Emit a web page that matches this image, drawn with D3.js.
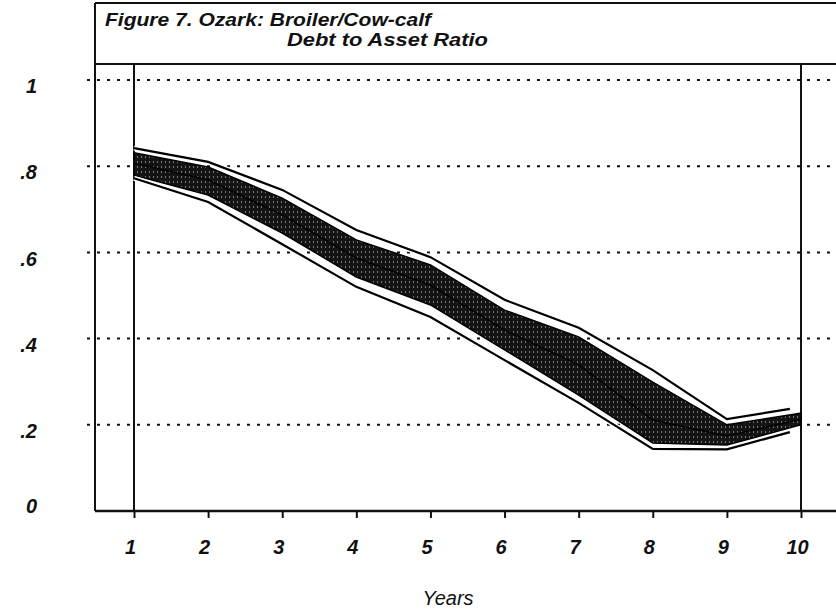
<!DOCTYPE html>
<html>
<head>
<meta charset="utf-8">
<script src="https://cdn.jsdelivr.net/npm/d3@7.9.0/dist/d3.min.js"></script>
<style>
  html, body { margin: 0; padding: 0; background: #fff; }
  svg { display: block; }
  text { font-family: "Liberation Sans", Arial, sans-serif; font-style: italic; font-weight: bold; fill: #111; }
</style>
</head>
<body>
<div id="chart"></div>
<script>
const titleLines = ["Figure 7. Ozark: Broiler/Cow-calf", "Debt to Asset Ratio"];
const xLabel = "Years";

const years = [1, 2, 3, 4, 5, 6, 7, 8, 9, 10];
const yTicks = [0, 0.2, 0.4, 0.6, 0.8, 1];
const yTickLabels = ["0", ".2", ".4", ".6", ".8", "1"];

// shaded band (inner range)
const bandHigh = [0.831, 0.798, 0.726, 0.629, 0.571, 0.466, 0.404, 0.299, 0.200, 0.227];
const bandLow  = [0.779, 0.733, 0.645, 0.543, 0.478, 0.374, 0.269, 0.158, 0.153, 0.200];
const median   = [0.807, 0.768, 0.687, 0.587, 0.524, 0.420, 0.339, 0.211, 0.174, 0.213];

// outer lines stop a little short of year 10
const outerYears = [1, 2, 3, 4, 5, 6, 7, 8, 9, 9.85];
const upper = [0.842, 0.810, 0.745, 0.652, 0.589, 0.490, 0.425, 0.327, 0.213, 0.237];
const lower = [0.772, 0.717, 0.619, 0.520, 0.450, 0.350, 0.251, 0.144, 0.143, 0.183];

const width = 836;
const height = 615;
const frame = { left: 95, top: 3, titleBottom: 64, bottom: 511 };

const svg = d3.select("#chart")
  .append("svg")
  .attr("width", width)
  .attr("height", height);

const x = d3.scaleLinear().domain([1, 10]).range([134, 801]);
const y = d3.scaleLinear().domain([0, 1]).range([511, 80]);

// texture for the shaded band
const defs = svg.append("defs");
const pat = defs.append("pattern")
  .attr("id", "stipple")
  .attr("patternUnits", "userSpaceOnUse")
  .attr("width", 4)
  .attr("height", 5);
pat.append("rect").attr("width", 4).attr("height", 5).attr("fill", "#141414");
pat.append("rect").attr("x", 1).attr("y", 1).attr("width", 1).attr("height", 2).attr("fill", "#777");

// frame
const frameG = svg.append("g").attr("stroke", "#111").attr("stroke-width", 2).attr("fill", "none");
frameG.append("line").attr("x1", frame.left).attr("x2", width).attr("y1", frame.top).attr("y2", frame.top);
frameG.append("line").attr("x1", frame.left).attr("x2", width).attr("y1", frame.titleBottom).attr("y2", frame.titleBottom);
frameG.append("line").attr("x1", frame.left).attr("x2", frame.left).attr("y1", frame.top).attr("y2", frame.bottom);

// title
svg.append("text").attr("x", 105).attr("y", 26).style("font-size", "19px")
  .attr("textLength", 326).attr("lengthAdjust", "spacingAndGlyphs").text(titleLines[0]);
svg.append("text").attr("x", 287).attr("y", 46).style("font-size", "19px")
  .attr("textLength", 201).attr("lengthAdjust", "spacingAndGlyphs").text(titleLines[1]);

// dotted gridlines
svg.append("g")
  .selectAll("line")
  .data(yTicks.filter((d) => d > 0))
  .join("line")
  .attr("x1", 87)
  .attr("x2", width)
  .attr("y1", (d) => y(d))
  .attr("y2", (d) => y(d))
  .attr("stroke", "#111")
  .attr("stroke-width", 2)
  .attr("stroke-dasharray", "3,7");

// y labels
svg.append("g")
  .selectAll("text")
  .data(yTicks)
  .join("text")
  .attr("x", 37)
  .attr("y", (d) => y(d) + 8 - (d === 0 ? 11 : 0))
  .attr("text-anchor", "end")
  .attr("dominant-baseline", "middle")
  .style("font-size", "20px")
  .text((d, i) => yTickLabels[i]);

// vertical lines at year 1 and year 10
svg.append("g")
  .selectAll("line")
  .data([1, 10])
  .join("line")
  .attr("x1", (d) => x(d))
  .attr("x2", (d) => x(d))
  .attr("y1", frame.titleBottom)
  .attr("y2", frame.bottom)
  .attr("stroke", "#111")
  .attr("stroke-width", 2);

// x axis
const xAxis = svg.append("g")
  .attr("transform", `translate(0, ${frame.bottom})`)
  .call(d3.axisBottom(x).tickValues(years).tickSize(7).tickFormat(d3.format("d")));
xAxis.select(".domain").remove();
xAxis.selectAll(".tick line").attr("stroke", "#111").attr("stroke-width", 2);
xAxis.selectAll(".tick text")
  .attr("y", 29)
  .attr("dx", -4)
  .attr("font-family", null)
  .attr("font-size", null)
  .style("font-size", "20px")
  .attr("fill", "#111");
svg.append("line")
  .attr("x1", frame.left)
  .attr("x2", width)
  .attr("y1", frame.bottom)
  .attr("y2", frame.bottom)
  .attr("stroke", "#111")
  .attr("stroke-width", 2.5);

svg.append("text")
  .attr("x", 448)
  .attr("y", 605)
  .attr("text-anchor", "middle")
  .style("font-size", "20px")
  .style("font-weight", "normal")
  .text(xLabel);

// band
const bandData = years.map((yr, i) => ({ yr, hi: bandHigh[i], lo: bandLow[i], mid: median[i] }));
const area = d3.area()
  .x((d) => x(d.yr))
  .y0((d) => y(d.lo))
  .y1((d) => y(d.hi));

svg.append("path")
  .datum(bandData)
  .attr("d", area)
  .attr("fill", "url(#stipple)")
  .attr("stroke", "#000")
  .attr("stroke-width", 1.5);

svg.append("path")
  .datum(bandData)
  .attr("d", d3.line().x((d) => x(d.yr)).y((d) => y(d.mid)))
  .attr("fill", "none")
  .attr("stroke", "#000")
  .attr("stroke-width", 1.5);

// outer bounds, with a white halo so they stand apart from the band
const outerLine = d3.line().x((d) => x(d[0])).y((d) => y(d[1]));
[upper, lower].forEach((series) => {
  const pts = outerYears.map((yr, i) => [yr, series[i]]);
  svg.append("path")
    .datum(pts)
    .attr("d", outerLine)
    .attr("fill", "none")
    .attr("stroke", "#fff")
    .attr("stroke-width", 5);
  svg.append("path")
    .datum(pts)
    .attr("d", outerLine)
    .attr("fill", "none")
    .attr("stroke", "#000")
    .attr("stroke-width", 2.2);
});
</script>
</body>
</html>
